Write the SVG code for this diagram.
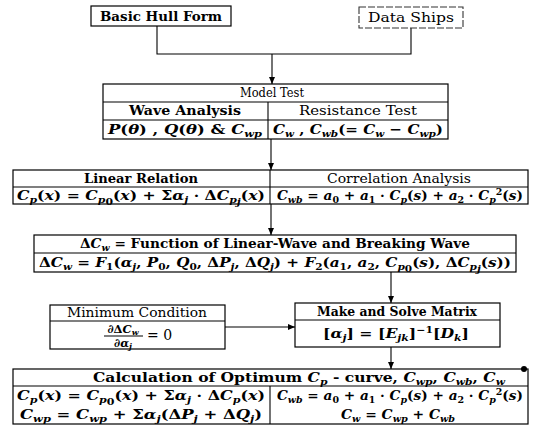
<svg xmlns="http://www.w3.org/2000/svg" width="540" height="432" viewBox="0 0 540 432">
<defs>
<style>
.box{fill:#fff;stroke:#000;stroke-width:1.2}
.ln{fill:none;stroke:#000;stroke-width:1.1}
.dash{fill:none;stroke:#333;stroke-width:1.1;stroke-dasharray:7 2}
.t{font-family:"DejaVu Serif","Liberation Serif",serif;font-size:13px;fill:#000}
.b{font-weight:bold}
.m{font-style:italic;font-weight:bold}
.s{font-size:9px}
.f{font-size:11.5px}
</style>
<marker id="ah" markerWidth="8" markerHeight="8" refX="7" refY="4" orient="auto" markerUnits="userSpaceOnUse">
<path d="M0,1 L7,4 L0,7 Z" fill="#000"/>
</marker>
</defs>
<rect width="540" height="432" fill="#fff"/>

<g id="connectors">
<polyline class="ln" points="157,26 157,54 411,54 411,28"/>
<line class="ln" x1="272" y1="54" x2="272" y2="84" marker-end="url(#ah)"/>
<line class="ln" x1="271" y1="139" x2="271" y2="170" marker-end="url(#ah)"/>
<line class="ln" x1="271" y1="204" x2="271" y2="235" marker-end="url(#ah)"/>
<line class="ln" x1="391" y1="272" x2="391" y2="303" marker-end="url(#ah)"/>
<line class="ln" x1="225" y1="327" x2="295" y2="327" marker-end="url(#ah)"/>
<line class="ln" x1="391" y1="347" x2="391" y2="369" marker-end="url(#ah)"/>
</g>

<g id="basic-hull-form">
<rect class="box" x="91" y="6" width="140" height="20"/>
<text class="t b" x="161" y="21" text-anchor="middle" textLength="122" lengthAdjust="spacingAndGlyphs">Basic Hull Form</text>
</g>

<g id="data-ships">
<rect class="dash" x="359" y="7" width="104" height="21"/>
<text class="t" x="411" y="22" text-anchor="middle" textLength="86" lengthAdjust="spacingAndGlyphs">Data Ships</text>
</g>

<g id="model-test">
<rect class="box" x="103" y="84" width="345" height="55"/>
<line class="ln" x1="103" y1="102" x2="448" y2="102"/>
<line class="ln" x1="103" y1="120" x2="448" y2="120"/>
<line class="ln" x1="268" y1="102" x2="268" y2="139"/>
<text class="t" x="272" y="97" text-anchor="middle" textLength="64" lengthAdjust="spacingAndGlyphs">Model Test</text>
<text class="t b" x="185" y="115" text-anchor="middle" textLength="112" lengthAdjust="spacingAndGlyphs">Wave Analysis</text>
<text class="t" x="358" y="115" text-anchor="middle" textLength="118" lengthAdjust="spacingAndGlyphs">Resistance Test</text>
<text class="t b" x="185" y="134" text-anchor="middle" textLength="154" lengthAdjust="spacingAndGlyphs"><tspan class="m">P</tspan>(<tspan class="m">θ</tspan>) , <tspan class="m">Q</tspan>(<tspan class="m">θ</tspan>) &amp; <tspan class="m">C</tspan><tspan class="m s" dy="3">wp</tspan></text>
<text class="t b" x="358" y="134" text-anchor="middle" textLength="170" lengthAdjust="spacingAndGlyphs"><tspan class="m">C</tspan><tspan class="m s" dy="3">w</tspan><tspan dy="-3"> , </tspan><tspan class="m">C</tspan><tspan class="m s" dy="3">wb</tspan><tspan dy="-3">(= </tspan><tspan class="m">C</tspan><tspan class="m s" dy="3">w</tspan><tspan dy="-3"> − </tspan><tspan class="m">C</tspan><tspan class="m s" dy="3">wp</tspan><tspan dy="-3">)</tspan></text>
</g>

<g id="linear-relation">
<rect class="box" x="13" y="170" width="515" height="34"/>
<line class="ln" x1="13" y1="187" x2="528" y2="187"/>
<line class="ln" x1="270" y1="170" x2="270" y2="204"/>
<text class="t b" x="141" y="183" text-anchor="middle" textLength="114" lengthAdjust="spacingAndGlyphs">Linear Relation</text>
<text class="t" x="399" y="183" text-anchor="middle" textLength="144" lengthAdjust="spacingAndGlyphs">Correlation Analysis</text>
<text class="t b" x="141" y="200" text-anchor="middle" textLength="248" lengthAdjust="spacingAndGlyphs"><tspan class="m">C</tspan><tspan class="m s" dy="3">p</tspan><tspan dy="-3">(</tspan><tspan class="m">x</tspan>) = <tspan class="m">C</tspan><tspan class="m s" dy="3">p</tspan><tspan class="s" dy="2">0</tspan><tspan dy="-5">(</tspan><tspan class="m">x</tspan>) + Σ<tspan class="m">α</tspan><tspan class="m s" dy="3">j</tspan><tspan dy="-3"> · Δ</tspan><tspan class="m">C</tspan><tspan class="m s" dy="3">p</tspan><tspan class="m s" dy="2">j</tspan><tspan dy="-5">(</tspan><tspan class="m">x</tspan>)</text>
<text class="t b" x="400" y="200" text-anchor="middle" textLength="246" lengthAdjust="spacingAndGlyphs"><tspan class="m">C</tspan><tspan class="m s" dy="3">wb</tspan><tspan dy="-3"> = </tspan><tspan class="m">a</tspan><tspan class="s" dy="3">0</tspan><tspan dy="-3"> + </tspan><tspan class="m">a</tspan><tspan class="s" dy="3">1</tspan><tspan dy="-3"> · </tspan><tspan class="m">C</tspan><tspan class="m s" dy="3">p</tspan><tspan dy="-3">(</tspan><tspan class="m">s</tspan>) + <tspan class="m">a</tspan><tspan class="s" dy="3">2</tspan><tspan dy="-3"> · </tspan><tspan class="m">C</tspan><tspan class="m s" dy="3">p</tspan><tspan class="s" dy="-8">2</tspan><tspan dy="5">(</tspan><tspan class="m">s</tspan>)</text>
</g>

<g id="delta-cw">
<rect class="box" x="34" y="235" width="482" height="37"/>
<line class="ln" x1="34" y1="253" x2="516" y2="253"/>
<text class="t b" x="275" y="248" text-anchor="middle" textLength="390" lengthAdjust="spacingAndGlyphs">Δ<tspan class="m">C</tspan><tspan class="m s" dy="3">w</tspan><tspan dy="-3"> = Function of Linear-Wave and Breaking Wave</tspan></text>
<text class="t b" x="275" y="267" text-anchor="middle" textLength="472" lengthAdjust="spacingAndGlyphs">Δ<tspan class="m">C</tspan><tspan class="m s" dy="3">w</tspan><tspan dy="-3"> = </tspan><tspan class="m">F</tspan><tspan class="s" dy="3">1</tspan><tspan dy="-3">(</tspan><tspan class="m">α</tspan><tspan class="m s" dy="3">j</tspan><tspan dy="-3">, </tspan><tspan class="m">P</tspan><tspan class="s" dy="3">0</tspan><tspan dy="-3">, </tspan><tspan class="m">Q</tspan><tspan class="s" dy="3">0</tspan><tspan dy="-3">, Δ</tspan><tspan class="m">P</tspan><tspan class="m s" dy="3">j</tspan><tspan dy="-3">, Δ</tspan><tspan class="m">Q</tspan><tspan class="m s" dy="3">j</tspan><tspan dy="-3">) + </tspan><tspan class="m">F</tspan><tspan class="s" dy="3">2</tspan><tspan dy="-3">(</tspan><tspan class="m">a</tspan><tspan class="s" dy="3">1</tspan><tspan dy="-3">, </tspan><tspan class="m">a</tspan><tspan class="s" dy="3">2</tspan><tspan dy="-3">, </tspan><tspan class="m">C</tspan><tspan class="m s" dy="3">p</tspan><tspan class="s" dy="2">0</tspan><tspan dy="-5">(</tspan><tspan class="m">s</tspan>), Δ<tspan class="m">C</tspan><tspan class="m s" dy="3">p</tspan><tspan class="m s" dy="2">j</tspan><tspan dy="-5">(</tspan><tspan class="m">s</tspan>))</text>
</g>

<g id="minimum-condition">
<rect class="box" x="50" y="305" width="175" height="44"/>
<line class="ln" x1="50" y1="321" x2="225" y2="321"/>
<text class="t" x="137" y="317" text-anchor="middle" textLength="140" lengthAdjust="spacingAndGlyphs">Minimum Condition</text>
<text class="t b f" x="123" y="333" text-anchor="middle"><tspan class="m">∂</tspan>Δ<tspan class="m">C</tspan><tspan class="m" dy="2" style="font-size:8px">w</tspan></text>
<line x1="104" y1="336" x2="143" y2="336" stroke="#000" stroke-width="1.1"/>
<text class="t b f" x="123" y="347" text-anchor="middle"><tspan class="m">∂α</tspan><tspan class="m" dy="2" style="font-size:8px">j</tspan></text>
<text class="t" x="147" y="340" style="font-size:14px">= 0</text>
</g>

<g id="make-solve-matrix">
<rect class="box" x="295" y="303" width="205" height="44"/>
<line class="ln" x1="295" y1="320" x2="500" y2="320"/>
<text class="t b" x="397" y="316" text-anchor="middle" textLength="160" lengthAdjust="spacingAndGlyphs">Make and Solve Matrix</text>
<text class="t b" x="396" y="338" text-anchor="middle" textLength="146" lengthAdjust="spacingAndGlyphs">[<tspan class="m">α</tspan><tspan class="m s" dy="3">j</tspan><tspan dy="-3">] = [</tspan><tspan class="m">E</tspan><tspan class="m s" dy="3">jk</tspan><tspan dy="-3">]</tspan><tspan class="s" dy="-5">−1</tspan><tspan dy="5">[</tspan><tspan class="m">D</tspan><tspan class="m s" dy="3">k</tspan><tspan dy="-3">]</tspan></text>
</g>

<g id="calculation">
<rect class="box" x="13" y="369" width="515" height="55"/>
<line class="ln" x1="13" y1="386" x2="528" y2="386"/>
<line class="ln" x1="270" y1="386" x2="270" y2="424"/>
<circle cx="524" cy="369" r="3" fill="#000"/>
<text class="t b" x="93" y="382" textLength="412" lengthAdjust="spacingAndGlyphs">Calculation of Optimum <tspan class="m">C</tspan><tspan class="m s" dy="3">p</tspan><tspan dy="-3"> - curve, </tspan><tspan class="m">C</tspan><tspan class="m s" dy="3">wp</tspan><tspan dy="-3">, </tspan><tspan class="m">C</tspan><tspan class="m s" dy="3">wb</tspan><tspan dy="-3">, </tspan><tspan class="m">C</tspan><tspan class="m s" dy="3">w</tspan></text>
<text class="t b" x="141" y="400" text-anchor="middle" textLength="248" lengthAdjust="spacingAndGlyphs"><tspan class="m">C</tspan><tspan class="m s" dy="3">p</tspan><tspan dy="-3">(</tspan><tspan class="m">x</tspan>) = <tspan class="m">C</tspan><tspan class="m s" dy="3">p</tspan><tspan class="s" dy="2">0</tspan><tspan dy="-5">(</tspan><tspan class="m">x</tspan>) + Σ<tspan class="m">α</tspan><tspan class="m s" dy="3">j</tspan><tspan dy="-3"> · Δ</tspan><tspan class="m">C</tspan><tspan class="m s" dy="3">p</tspan><tspan dy="-3">(</tspan><tspan class="m">x</tspan>)</text>
<text class="t b" x="141" y="419" text-anchor="middle" textLength="242" lengthAdjust="spacingAndGlyphs"><tspan class="m">C</tspan><tspan class="m s" dy="3">wp</tspan><tspan dy="-3"> = </tspan><tspan class="m">C</tspan><tspan class="m s" dy="3">wp</tspan><tspan dy="-3"> + Σ</tspan><tspan class="m">α</tspan><tspan class="m s" dy="3">j</tspan><tspan dy="-3">(Δ</tspan><tspan class="m">P</tspan><tspan class="m s" dy="3">j</tspan><tspan dy="-3"> + Δ</tspan><tspan class="m">Q</tspan><tspan class="m s" dy="3">j</tspan><tspan dy="-3">)</tspan></text>
<text class="t b" x="400" y="400" text-anchor="middle" textLength="246" lengthAdjust="spacingAndGlyphs"><tspan class="m">C</tspan><tspan class="m s" dy="3">wb</tspan><tspan dy="-3"> = </tspan><tspan class="m">a</tspan><tspan class="s" dy="3">0</tspan><tspan dy="-3"> + </tspan><tspan class="m">a</tspan><tspan class="s" dy="3">1</tspan><tspan dy="-3"> · </tspan><tspan class="m">C</tspan><tspan class="m s" dy="3">p</tspan><tspan dy="-3">(</tspan><tspan class="m">s</tspan>) + <tspan class="m">a</tspan><tspan class="s" dy="3">2</tspan><tspan dy="-3"> · </tspan><tspan class="m">C</tspan><tspan class="m s" dy="3">p</tspan><tspan class="s" dy="-8">2</tspan><tspan dy="5">(</tspan><tspan class="m">s</tspan>)</text>
<text class="t b" x="398" y="419" text-anchor="middle" textLength="114" lengthAdjust="spacingAndGlyphs"><tspan class="m">C</tspan><tspan class="m s" dy="3">w</tspan><tspan dy="-3"> = </tspan><tspan class="m">C</tspan><tspan class="m s" dy="3">wp</tspan><tspan dy="-3"> + </tspan><tspan class="m">C</tspan><tspan class="m s" dy="3">wb</tspan></text>
</g>
</svg>
